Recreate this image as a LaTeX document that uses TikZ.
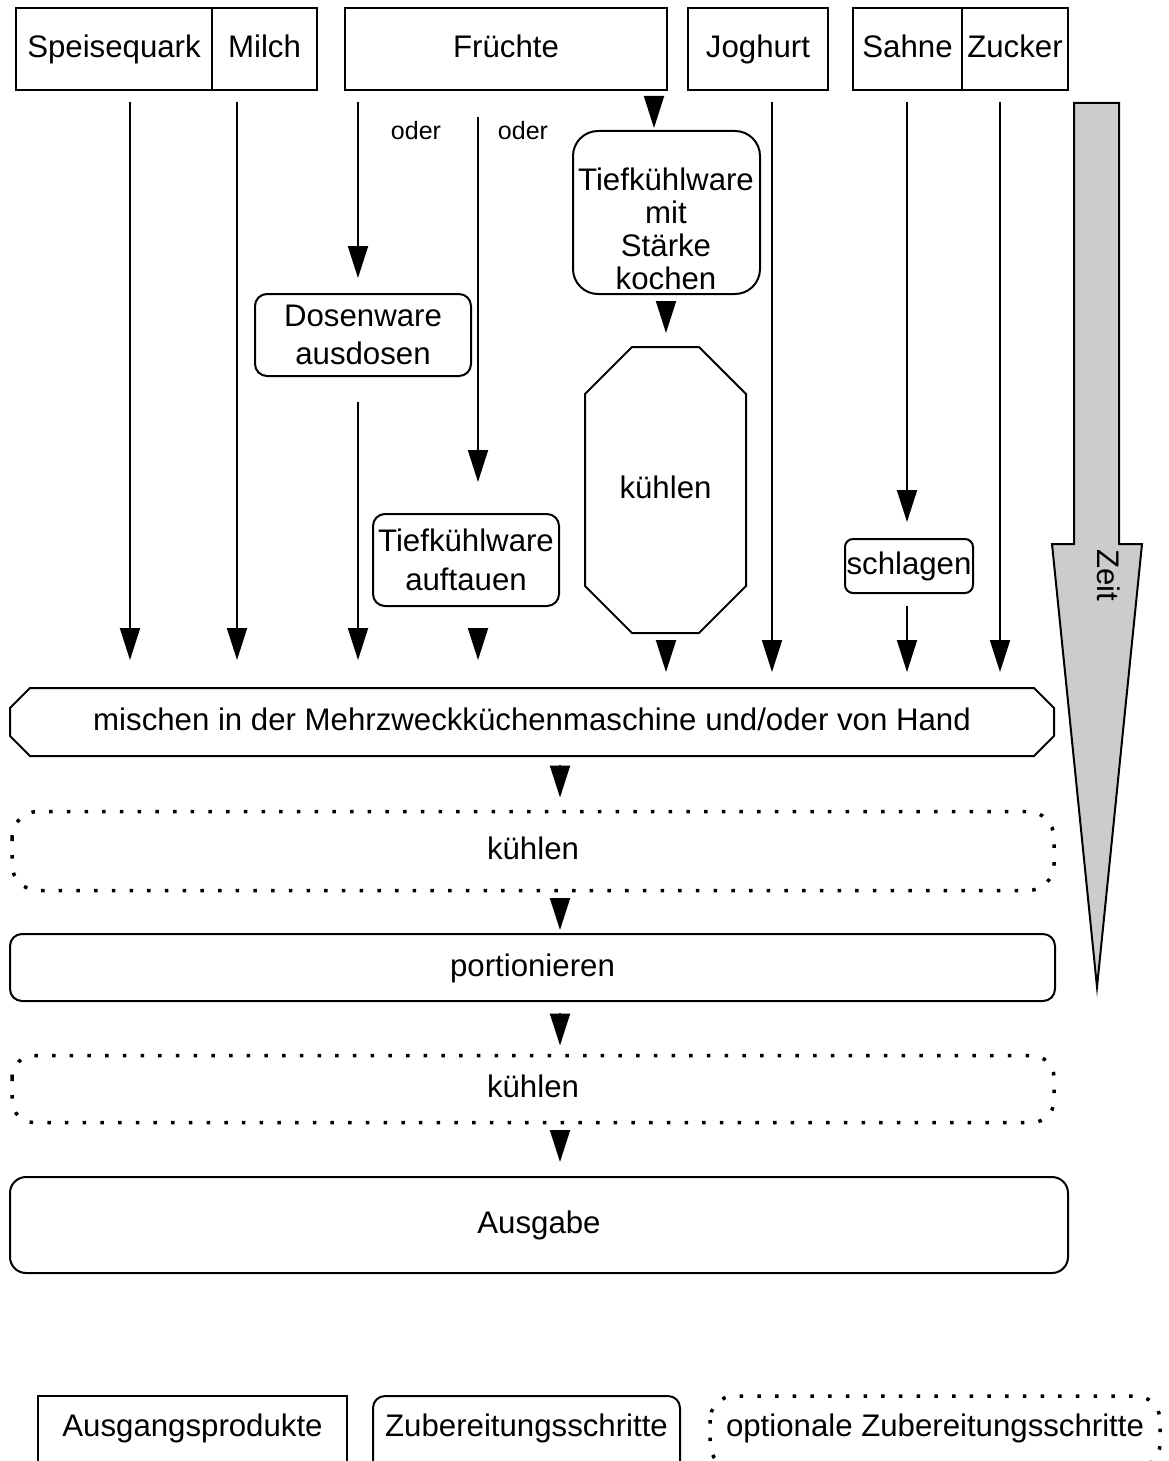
\documentclass[tikz,border=0pt]{standalone}
\usepackage{fontspec}
\setmainfont{Liberation Sans}
\usetikzlibrary{arrows.meta,calc}
\definecolor{zeitgray}{HTML}{CCCCCC}
\begin{document}
\begin{tikzpicture}[x=1pt,y=-1pt,
  line width=2pt,
  txt/.style={font=\fontsize{31.2}{36}\selectfont, inner sep=0pt, outer sep=0pt, align=center},
  one/.style={text height=22pt, text depth=5pt},
  small/.style={font=\fontsize{25}{30}\selectfont, inner sep=0pt},
  sqbox/.style={txt, one, draw, minimum height=82pt},
  rbox/.style={txt, draw, rounded corners=#1},
  rbox/.default=12pt,
  hidden/.style={txt},
  arr/.style={-{Triangle[length=32pt,width=20pt]}, line width=2pt},
  dots/.style={line width=3.5pt, dash pattern=on 3.5pt off 14.2pt, line cap=butt, rounded corners=#1},
  dots/.default=26pt]
\useasboundingbox (0,0) rectangle (1168,1461);
\clip (0,0) rectangle (1168,1461);

% columns of the flow lines
\foreach \c in {130,237,358,478,654,666,772,907,1000,560}
  \coordinate (x\c) at (\c,0);

% raw materials
\node[sqbox, minimum width=196pt] (sq) at (114,49) {Speisequark};
\node[sqbox, minimum width=105pt] (mi) at (264.5,49) {Milch};
\node[sqbox, minimum width=322pt] (fr) at (506,49) {Früchte};
\node[sqbox, minimum width=140pt] (jo) at (758,49) {Joghurt};
\node[sqbox, minimum width=109pt] (sa) at (907.5,49) {Sahne};
\node[sqbox, minimum width=106pt] (zu) at (1015,49) {Zucker};

\node[small] (oder1) at (416,131) {oder};
\node[small] (oder2) at (523,131) {oder};

% preparation of the fruit
\node[rbox=25pt, minimum width=187pt, minimum height=163pt] (koch) at (666.5,212.5) {};
\node[txt, font=\fontsize{31.2}{32.8}\selectfont] (kochT) at (666,229) {Tiefkühlware\\mit\\Stärke\\kochen};
\node[rbox, minimum width=216pt, minimum height=82pt, font=\fontsize{31.2}{38}\selectfont] (dose) at (363,335) {Dosenware\\ausdosen};
\node[rbox, minimum width=186pt, minimum height=92pt, font=\fontsize{31.2}{39}\selectfont] (auf) at (466,560) {Tiefkühlware\\auftauen};
\node[hidden, one, minimum width=161pt, minimum height=286pt] (kuehl) at (665.5,490) {kühlen};
\draw ($(kuehl.north west)+(47,0)$) -- ($(kuehl.north east)+(-47,0)$)
  -- ($(kuehl.north east)+(0,47)$) -- ($(kuehl.south east)+(0,-47)$)
  -- ($(kuehl.south east)+(-47,0)$) -- ($(kuehl.south west)+(47,0)$)
  -- ($(kuehl.south west)+(0,-47)$) -- ($(kuehl.north west)+(0,47)$) -- cycle;
\node[rbox=8pt, one, minimum width=128pt, minimum height=54pt] (schl) at (909,566) {schlagen};

% main process chain
\node[hidden, one, minimum width=1044pt, minimum height=68pt] (mix) at (532,722) {mischen in der Mehrzweckküchenmaschine und/oder von Hand};
\draw ($(mix.north west)+(20,0)$) -- ($(mix.north east)+(-20,0)$)
  -- ($(mix.north east)+(0,20)$) -- ($(mix.south east)+(0,-20)$)
  -- ($(mix.south east)+(-20,0)$) -- ($(mix.south west)+(20,0)$)
  -- ($(mix.south west)+(0,-20)$) -- ($(mix.north west)+(0,20)$) -- cycle;
\node[hidden, one, minimum width=1042pt, minimum height=79pt] (opt1) at (533,851) {kühlen};
\draw[dots] (opt1.north west) rectangle (opt1.south east);
\node[rbox, one, minimum width=1045pt, minimum height=67pt] (port) at (532.5,967.5) {portionieren};
\node[hidden, one, minimum width=1042pt, minimum height=67pt] (opt2) at (533,1089) {kühlen};
\draw[dots=22pt] (opt2.north west) rectangle (opt2.south east);
\node[rbox=16pt, one, minimum width=1058pt, minimum height=96pt] (aus) at (539,1225) {Ausgabe};

% time axis
\draw[fill=zeitgray] (1074,103) -- (1119,103) -- (1119,544) -- (1142,544)
  -- (1097,987) -- (1052,544) -- (1074,544) -- cycle;
\node[txt, one, rotate=-90] (zeit) at (1106,575) {Zeit};

% connectors
\draw[arr, shorten <=12pt, shorten >=28pt] (sq.south -| x130) -- (mix.north -| x130);
\draw[arr, shorten <=12pt, shorten >=28pt] (mi.south -| x237) -- (mix.north -| x237);
\draw[arr, shorten <=12pt, shorten >=16pt] (fr.south -| x358) -- (dose.north -| x358);
\draw[arr, shorten <=27pt, shorten >=32pt] (fr.south -| x478) -- (auf.north -| x478);
\draw[arr, shorten <=6pt, shorten >=3pt] (fr.south -| x654) -- (koch.north -| x654);
\draw[arr, shorten <=7pt, shorten >=14pt] (koch.south -| x666) -- (kuehl.north -| x666);
\draw[arr, shorten <=26pt, shorten >=28pt] (dose.south -| x358) -- (mix.north -| x358);
\draw[arr, shorten <=22pt, shorten >=28pt] (auf.south -| x478) -- (mix.north -| x478);
\draw[arr, shorten <=7pt, shorten >=16pt] (kuehl.south -| x666) -- (mix.north -| x666);
\draw[arr, shorten <=12pt, shorten >=16pt] (jo.south -| x772) -- (mix.north -| x772);
\draw[arr, shorten <=12pt, shorten >=17pt] (sa.south -| x907) -- (schl.north -| x907);
\draw[arr, shorten <=13pt, shorten >=16pt] (schl.south -| x907) -- (mix.north -| x907);
\draw[arr, shorten <=12pt, shorten >=16pt] (zu.south -| x1000) -- (mix.north -| x1000);
\draw[arr, shorten <=9pt, shorten >=14pt] (mix.south -| x560) -- (opt1.north -| x560);
\draw[arr, shorten <=8pt, shorten >=4pt] (opt1.south -| x560) -- (port.north -| x560);
\draw[arr, shorten <=12pt, shorten >=10pt] (port.south -| x560) -- (opt2.north -| x560);
\draw[arr, shorten <=7pt, shorten >=15pt] (opt2.south -| x560) -- (aus.north -| x560);

% legend
\node[hidden, one, minimum width=309pt, minimum height=64pt] (lg1) at (192.5,1428) {Ausgangsprodukte};
\draw (lg1.north west) rectangle ($(lg1.south east)+(0,40)$);
\node[hidden, one, minimum width=307pt, minimum height=64pt] (lg2) at (526.5,1428) {Zubereitungsschritte};
\draw[rounded corners=12pt] (lg2.north west) rectangle ($(lg2.south east)+(0,40)$);
\node[hidden, one, minimum width=450pt, minimum height=64pt] (lg3) at (935,1428) {optionale Zubereitungsschritte};
\draw[dots=24pt] (lg3.north west) rectangle ($(lg3.south east)+(0,8)$);
\end{tikzpicture}
\end{document}
